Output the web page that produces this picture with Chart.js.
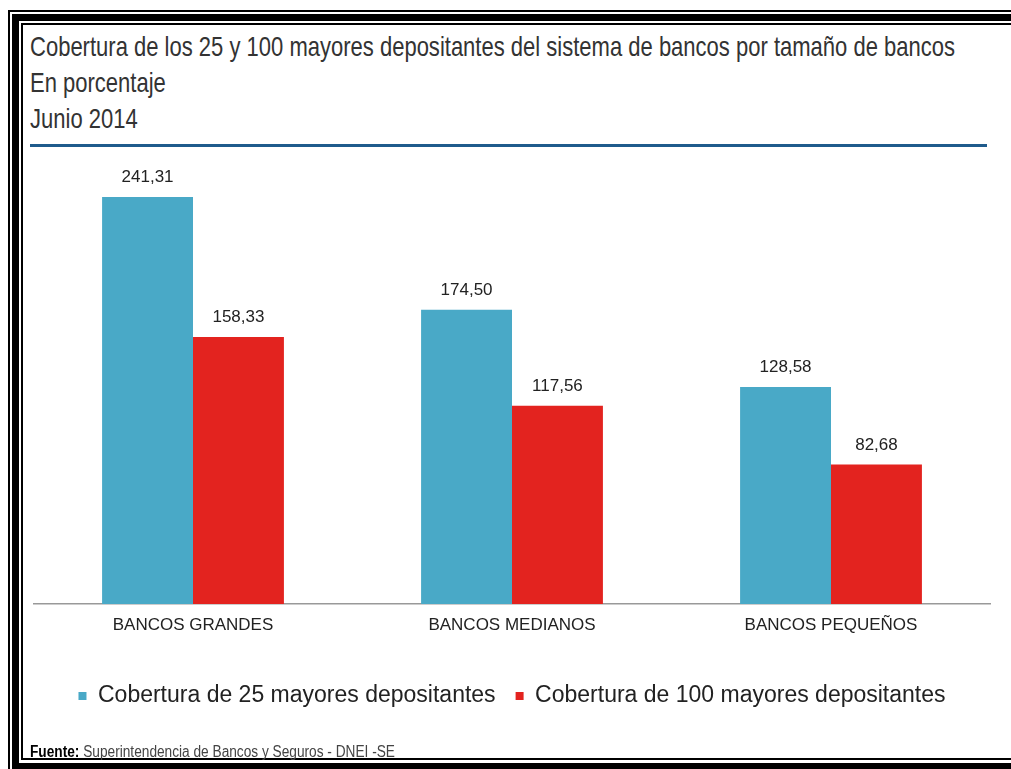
<!DOCTYPE html>
<html>
<head>
<meta charset="utf-8">
<script src="https://cdn.jsdelivr.net/npm/chart.js@4.4.0/dist/chart.umd.min.js"></script>
<style>
  html, body { margin: 0; padding: 0; background: #fff; overflow: hidden; }
  body { width: 1011px; height: 769px; position: relative; }
  .frame { position: absolute; box-sizing: content-box; border-style: solid; border-color: #000; }
  #f1 { left: 8px; top: 10px; width: 1100px; height: 900px; border-width: 2px; }
  #f2 { left: 12px; top: 14px; width: 1100px; height: 742px; border-width: 7px; }
  #f3 { left: 21px; top: 23px; width: 1100px; height: 733px; border-width: 2px; }
  #title { position: absolute; left: 30px; top: 29px; font-family: "Liberation Sans", Arial, sans-serif;
           font-size: 28px; line-height: 36px; color: #333; transform-origin: left top; white-space: nowrap; }
  #rule { position: absolute; left: 30px; top: 144px; width: 957px; height: 3px; background: #1f5b8c; }
  #source { position: absolute; left: 30px; top: 743px; font-family: "Liberation Sans", Arial, sans-serif;
            font-size: 16px; color: #444; transform-origin: left top; white-space: nowrap; }
  #source b { color: #000; }
  canvas { position: absolute; left: 0; top: 0; }
</style>
</head>
<body>
<div class="frame" id="f1"></div>
<div class="frame" id="f2"></div>
<div class="frame" id="f3"></div>
<div id="title"><span id="t1">Cobertura de los 25 y 100 mayores depositantes del sistema de bancos por tamaño de bancos</span><br>En porcentaje<br>Junio 2014</div>
<div id="rule"></div>
<canvas id="chart" width="1011" height="769"></canvas>
<div id="source"><b>Fuente:</b> Superintendencia de Bancos y Seguros - DNEI -SE</div>
<script>
const categories = ['BANCOS GRANDES', 'BANCOS MEDIANOS', 'BANCOS PEQUEÑOS'];
const top25 = [241.31, 174.50, 128.58];
const top100 = [158.33, 117.56, 82.68];
const seriesNames = ['Cobertura de 25 mayores depositantes', 'Cobertura de 100 mayores depositantes'];

// stretch title / source text to the widths in the picture
function fitWidth(el, target) {
    const w = el.getBoundingClientRect().width;
    return target / w;
}
const titleEl = document.getElementById('title');
titleEl.style.transform = 'scaleX(' + fitWidth(document.getElementById('t1'), 925) + ')';
const srcEl = document.getElementById('source');
srcEl.style.transform = 'scaleX(' + fitWidth(srcEl, 365) + ')';

function fmt(v) {
    return v.toFixed(2).replace('.', ',');
}

const valueLabels = {
    id: 'valueLabels',
    afterDatasetsDraw(chart) {
        const ctx = chart.ctx;
        ctx.save();
        ctx.font = '17px "Liberation Sans", Arial, sans-serif';
        ctx.fillStyle = '#222';
        ctx.textAlign = 'center';
        ctx.textBaseline = 'alphabetic';
        chart.data.datasets.forEach((ds, i) => {
            chart.getDatasetMeta(i).data.forEach((bar, j) => {
                ctx.fillText(fmt(ds.data[j]), bar.x, bar.y - 15);
            });
        });
        ctx.restore();
    }
};

const chart = new Chart(document.getElementById('chart'), {
    type: 'bar',
    data: {
        labels: categories,
        datasets: [{
            label: seriesNames[0],
            data: top25,
            backgroundColor: '#49a9c7',
            borderWidth: 0
        }, {
            label: seriesNames[1],
            data: top100,
            backgroundColor: '#e3231f',
            borderWidth: 0
        }]
    },
    options: {
        responsive: false,
        animation: false,
        layout: {
            padding: { left: 33.5, right: 20.5, top: 165.4, bottom: 51.5 }
        },
        datasets: {
            bar: { categoryPercentage: 0.57, barPercentage: 1 }
        },
        plugins: {
            legend: {
                position: 'bottom',
                labels: {
                    boxWidth: 8,
                    boxHeight: 8,
                    padding: 20,
                    color: '#222',
                    font: { family: '"Liberation Sans", Arial, sans-serif', size: 23 }
                }
            },
            tooltip: { enabled: false }
        },
        scales: {
            y: {
                display: false,
                min: 0,
                max: 260
            },
            x: {
                grid: { display: false, drawTicks: false },
                border: { display: true, color: '#999', width: 1.5 },
                ticks: {
                    padding: 11,
                    color: '#222',
                    font: { family: '"Liberation Sans", Arial, sans-serif', size: 17 }
                },
                afterFit: function(scale) {
                    scale.height = 60.5;
                }
            }
        }
    },
    plugins: [valueLabels]
});
</script>
</body>
</html>
